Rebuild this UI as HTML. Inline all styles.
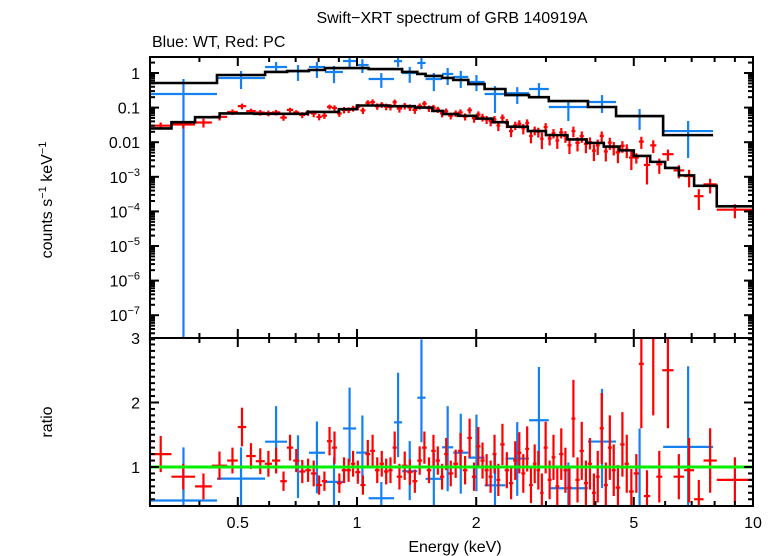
<!DOCTYPE html>
<html><head><meta charset="utf-8"><style>
body{margin:0;background:#fff;}
svg{display:block;font-family:"Liberation Sans",sans-serif;}
</style></head><body>
<svg id="chart" width="776" height="556" viewBox="0 0 776 556">
<text x="452" y="23" font-size="16" text-anchor="middle">Swift−XRT spectrum of GRB 140919A</text>
<text x="152" y="47" font-size="16">Blue: WT, Red: PC</text>
<text transform="translate(52,200) rotate(-90)" font-size="16" text-anchor="middle">counts s<tspan font-size="11" dy="-6">−1</tspan><tspan dy="6"> keV</tspan><tspan font-size="11" dy="-6">−1</tspan></text>
<text transform="translate(52,422) rotate(-90)" font-size="16" text-anchor="middle">ratio</text>
<text x="455" y="552" font-size="16" text-anchor="middle">Energy (keV)</text>
<defs>
<clipPath id="cTop"><rect x="150" y="57" width="603" height="281"/></clipPath>
<clipPath id="cBot"><rect x="150" y="338" width="603" height="168"/></clipPath>
</defs>
<g id="gtop" clip-path="url(#cTop)"></g>
<g id="gbot" clip-path="url(#cBot)"></g>
<g id="axes"></g>
</svg>
<script>
// Blue (WT) bins
const blueEdges=[0.30,0.443,0.586,0.666,0.756,0.83,0.922,0.995,1.07,1.24,1.30,1.42,1.49,1.64,1.75,1.91,2.10,2.37,2.72,3.05,3.83,4.51,5.93,7.93];
const blueVal=[0.247,0.717,1.49,1.14,1.49,1.07,2.22,1.7,0.67,2.2,1.0,1.95,0.67,0.94,0.77,0.55,0.247,0.26,0.345,0.104,0.145,0.057,0.021];
const blueHi=[0.67,1.14,2.08,1.7,2.08,1.6,3.1,2.5,1.0,3.2,1.5,2.8,1.0,1.4,1.15,0.87,0.42,0.39,0.51,0.166,0.23,0.091,0.041];
const blueLo=[1e-9,0.345,1.0,0.59,0.72,0.51,1.49,1.0,0.37,1.5,0.52,1.3,0.3,0.45,0.37,0.3,0.07,0.127,0.19,0.041,0.07,0.0225,0.0035];
const blueModel=[0.514,0.875,1.07,1.14,1.22,1.39,1.39,1.39,1.3,1.3,1.07,0.94,0.82,0.72,0.63,0.48,0.345,0.23,0.2,0.155,0.104,0.057,0.016];
// Red (PC) bins
const redEdges=[0.30,0.34,0.39,0.43,0.47,0.50,0.525,0.555,0.585,0.61,0.64,0.665,0.69,0.715,0.74,0.765,0.79,0.815,0.84,0.865,0.89,0.915,0.94,0.965,0.99,1.02,1.05,1.08,1.11,1.14,1.17,1.20,1.23,1.26,1.30,1.34,1.38,1.42,1.46,1.50,1.54,1.58,1.62,1.66,1.70,1.75,1.80,1.85,1.90,1.95,2.0,2.05,2.1,2.15,2.2,2.25,2.3,2.36,2.42,2.48,2.54,2.6,2.66,2.72,2.78,2.84,2.9,2.96,3.03,3.1,3.17,3.24,3.32,3.4,3.48,3.56,3.65,3.74,3.83,3.92,4.01,4.1,4.2,4.3,4.4,4.5,4.62,4.74,4.86,5.0,5.15,5.3,5.5,5.7,5.9,6.3,6.7,7.1,7.5,8.1,10.0];
const redRatio=[1.2,0.85,0.7,1.02,1.1,1.62,1.17,1.09,1.05,1.1,0.78,1.3,1.1,0.93,0.95,0.9,0.72,0.78,1.4,1.3,0.75,0.95,0.95,1.05,0.92,0.72,1.2,1.25,0.95,1.05,0.93,0.95,1.3,0.85,1.02,0.92,0.78,1.1,1.3,0.95,1.25,1.1,0.85,1.2,0.9,1.05,1.25,0.95,1.45,0.85,1.32,1.1,0.95,0.85,1.2,0.8,1.35,0.95,0.75,1.1,1.22,0.9,1.28,0.72,1.05,0.95,0.6,1.3,0.8,1.15,0.7,1.2,0.95,0.68,1.75,0.8,1.25,0.75,1.05,0.6,0.85,1.6,0.72,1.3,0.95,0.68,1.35,1.05,0.62,0.9,2.6,0.55,3.0,0.85,2.5,0.85,0.95,0.5,1.1,0.8];
const redErr=[0.28,0.2,0.2,0.22,0.2,0.3,0.2,0.2,0.2,0.2,0.15,0.2,0.18,0.18,0.18,0.2,0.15,0.15,0.22,0.25,0.15,0.2,0.18,0.2,0.18,0.15,0.22,0.25,0.2,0.2,0.2,0.2,0.25,0.2,0.22,0.2,0.18,0.22,0.25,0.2,0.25,0.22,0.2,0.25,0.2,0.22,0.28,0.22,0.3,0.22,0.3,0.28,0.25,0.25,0.3,0.25,0.32,0.28,0.25,0.3,0.32,0.3,0.35,0.28,0.3,0.3,0.3,0.4,0.3,0.35,0.3,0.4,0.35,0.3,0.6,0.35,0.45,0.35,0.4,0.3,0.4,0.55,0.35,0.5,0.4,0.35,0.5,0.45,0.35,0.3,1.0,0.4,1.2,0.4,0.9,0.35,0.5,0.3,0.5,0.35];
const modelEdges=[0.30,0.34,0.39,0.45,0.55,0.75,0.9,1.0,1.2,1.4,1.55,1.65,1.8,2.0,2.2,2.4,2.7,3.0,3.4,3.8,4.2,4.6,5.0,5.5,6.0,6.5,7.1,8.1,10.0];
const modelVals=[0.025,0.038,0.053,0.068,0.066,0.075,0.09,0.115,0.11,0.1,0.08,0.065,0.058,0.048,0.038,0.028,0.021,0.016,0.012,0.0095,0.0075,0.0058,0.004,0.0027,0.0018,0.0011,0.00055,0.00014];
const xTicksMajor=[0.5,1,2,5,10];
const xTickLabels=["0.5","1","2","5","10"];
const yDecades=[1,0.1,0.01,1e-3,1e-4,1e-5,1e-6,1e-7];
const yDecLabels=["1","0.1","0.01","10|−3","10|−4","10|−5","10|−6","10|−7"];
const ratioTicks=[1,2,3];

const X0=150,X1=753,TY0=57,TY1=338,BY0=338,BY1=506;
const xs=e=>357+396*Math.log10(e);
const ysT=v=>73-34.6*Math.log10(v);
const ysB=r=>467-64.5*(r-1);
const NS="http://www.w3.org/2000/svg";
function mk(tag,parent,attrs){const el=document.createElementNS(NS,tag);for(const k in attrs)el.setAttribute(k,attrs[k]);parent.appendChild(el);return el;}
const gTop=document.getElementById('gtop'),gBot=document.getElementById('gbot'),gAxes=document.getElementById('axes');
const BLUE="#1580f0",RED="#ff0000";
function modelAt(e){for(let i=0;i<modelVals.length;i++){if(e>=modelEdges[i]&&e<modelEdges[i+1])return modelVals[i];}return modelVals[modelVals.length-1];}
function cross(g,x1,x2,y,ya,yb,col,name){
  const h=mk('line',g,{x1:x1,x2:x2,y1:y,y2:y,stroke:col,'stroke-width':2.2});
  
  
  const v=mk('line',g,{x1:(x1+x2)/2,x2:(x1+x2)/2,y1:ya,y2:yb,stroke:col,'stroke-width':2.2});
  
  
}
function stepPath(edges,vals,ys){let d="";for(let i=0;i<vals.length;i++){const y=ys(vals[i]);d+=(i==0?"M":"L")+xs(edges[i])+","+y+"L"+xs(edges[i+1])+","+y;}return d;}
// blue data
for(let i=0;i<blueVal.length;i++){
  cross(gTop,xs(blueEdges[i]),xs(blueEdges[i+1]),ysT(blueVal[i]),ysT(blueHi[i]),ysT(blueLo[i]),BLUE,'blue-point');
  const m=blueModel[i];
  cross(gBot,xs(blueEdges[i]),xs(blueEdges[i+1]),ysB(blueVal[i]/m),ysB(blueHi[i]/m),ysB(blueLo[i]/m),BLUE,'blue-ratio');
}
// red data
for(let i=0;i<redRatio.length&&i<redEdges.length-1;i++){
  const ec=Math.sqrt(redEdges[i]*redEdges[i+1]);const m=modelAt(ec);
  const r=redRatio[i],er=(redErr[i]!==undefined?redErr[i]:0.3);
  cross(gTop,xs(redEdges[i]),xs(redEdges[i+1]),ysT(r*m),ysT((r+er)*m),ysT(Math.max(r-er,0.01)*m),RED,'red-point');
  cross(gBot,xs(redEdges[i]),xs(redEdges[i+1]),ysB(r),ysB(r+er),ysB(r-er),RED,'red-ratio');
}
// models
const bm=mk('path',gTop,{d:stepPath(blueEdges,blueModel,ysT),fill:'none',stroke:'#000','stroke-width':2.6});


const rm=mk('path',gTop,{d:stepPath(modelEdges,modelVals,ysT),fill:'none',stroke:'#000','stroke-width':2.6});


const gl=mk('line',gBot,{x1:X0,x2:X1,y1:ysB(1),y2:ysB(1),stroke:'#00ee00','stroke-width':3});


// frames
[[TY0,TY1,'top-frame'],[BY0,BY1,'bottom-frame']].forEach(f=>{
  const r=mk('rect',gAxes,{x:X0,y:f[0],width:X1-X0,height:f[1]-f[0],fill:'none',stroke:'#000','stroke-width':2});
  
  
});
function tick(x1,y1,x2,y2){mk('line',gAxes,{x1:x1,y1:y1,x2:x2,y2:y2,stroke:'#000','stroke-width':2});}
// x ticks
const minorX=[0.3,0.4,0.6,0.7,0.8,0.9,3,4,6,7,8,9];
[[TY0,TY1],[BY0,BY1]].forEach(p=>{
  xTicksMajor.forEach(e=>{tick(xs(e),p[0],xs(e),p[0]+9);tick(xs(e),p[1],xs(e),p[1]-9);});
  minorX.forEach(e=>{tick(xs(e),p[0],xs(e),p[0]+5);tick(xs(e),p[1],xs(e),p[1]-5);});
});
xTicksMajor.forEach((e,i)=>{
  const t=mk('text',gAxes,{x:xs(e),y:528,'font-size':16,'text-anchor':'middle'});t.textContent=xTickLabels[i];
  
  
});
// y ticks top
yDecades.forEach((v,i)=>{
  const y=ysT(v);tick(X0,y,X0+9,y);tick(X1,y,X1-9,y);
  for(let k=2;k<=9;k++){const yy=ysT(v*k);if(yy>TY0){tick(X0,yy,X0+5,yy);tick(X1,yy,X1-5,yy);}}
  const t=mk('text',gAxes,{x:140,y:y+6,'font-size':16,'text-anchor':'end'});
  const parts=yDecLabels[i].split('|');
  if(parts.length==1)t.textContent=parts[0];else{t.textContent=parts[0];const s=mk('tspan',t,{'font-size':11,dy:-7});s.textContent=parts[1];}
  
  
});
for(let k=2;k<=9;k++){const yy=ysT(1e-8*k);tick(X0,yy,X0+5,yy);tick(X1,yy,X1-5,yy);}
// ratio ticks
for(let r=0.5;r<=3.01;r+=0.1){const y=ysB(r);if(y<BY1){const major=Math.abs(r-Math.round(r))<0.01;tick(X0,y,X0+(major?9:5),y);tick(X1,y,X1-(major?9:5),y);}}
ratioTicks.forEach(r=>{
  const t=mk('text',gAxes,{x:140,y:ysB(r)+6,'font-size':16,'text-anchor':'end'});t.textContent=String(r);
  
  
});
</script>
</body></html>
